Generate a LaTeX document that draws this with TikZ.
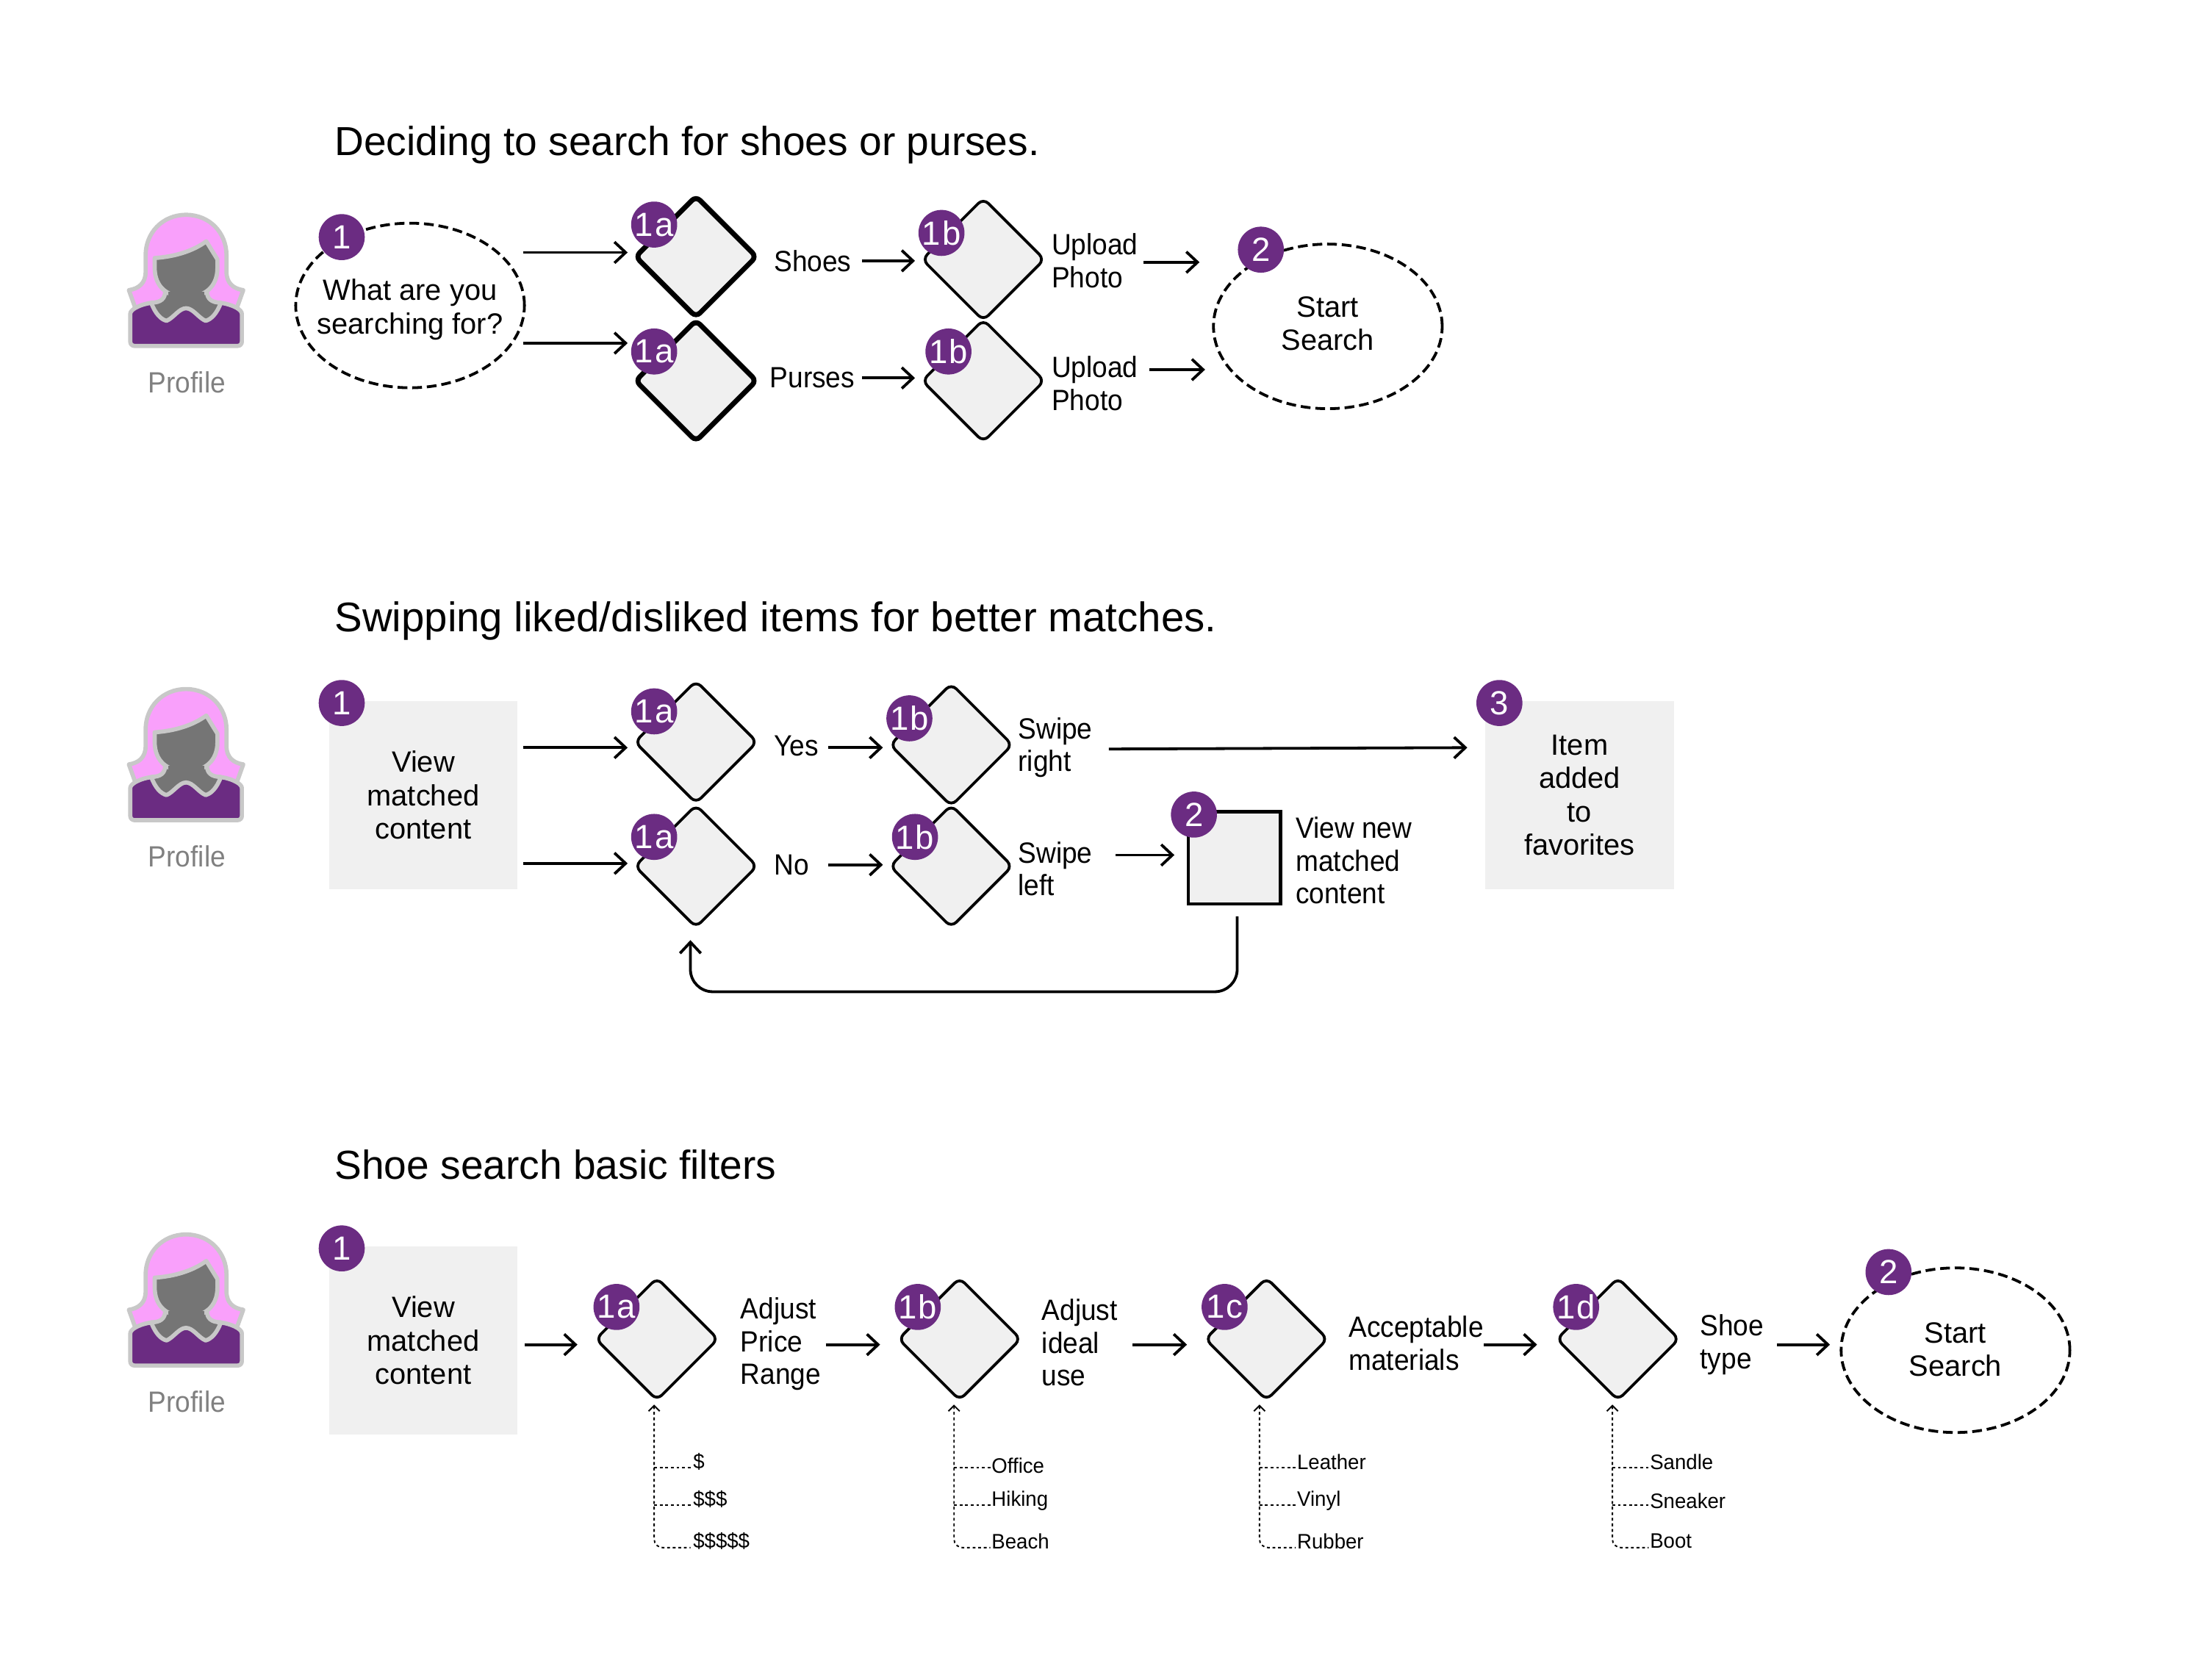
\documentclass[tikz,border=0pt]{standalone}
\usepackage{fontspec}
\setmainfont{Liberation Sans}
\newfontfamily\narrowf[FakeStretch=0.93]{Liberation Sans}
\newfontfamily\smallf[FakeStretch=0.97]{Liberation Sans}
\usetikzlibrary{shapes.geometric,arrows.meta}
\definecolor{purp}{HTML}{6B2C82}
\definecolor{pale}{HTML}{F0F0F0}
\definecolor{hair}{HTML}{F9A0FB}
\definecolor{outl}{HTML}{C8C8C8}
\definecolor{headg}{HTML}{757575}
\tikzset{
  x=1pt,y=-1pt,
  base/.style={inner sep=0pt,outer sep=0pt,text=black},
  title/.style={base,anchor=west,font=\fontsize{29.05}{34}\selectfont},
  lab/.style={base,anchor=west,align=left,font=\narrowf\fontsize{21}{23.5}\selectfont},
  clab/.style={base,align=center,font=\fontsize{21}{24}\selectfont},
  small/.style={base,anchor=west,font=\smallf\fontsize{15}{18}\selectfont},
  proftext/.style={base,text=black!50,font=\narrowf\fontsize{21}{24}\selectfont},
  dec/.style={base,shape=diamond,aspect=1,minimum width=87.5pt,minimum height=87.5pt,draw=black,fill=pale,line width=2pt,rounded corners=5pt},
  decb/.style={dec,minimum width=86.5pt,minimum height=86.5pt,line width=3.6pt,rounded corners=4pt},
  term/.style={base,shape=ellipse,minimum width=164pt,minimum height=118pt,draw=black,line width=2pt,dash pattern=on 7pt off 3.5pt},
  gbox/.style={base,align=center,fill=pale,minimum width=135pt,minimum height=135pt,font=\fontsize{21}{24}\selectfont},
  sq/.style={base,draw=black,fill=pale,line width=2.4pt,minimum width=66pt,minimum height=66pt},
  badge/.style={base,shape=circle,fill=purp,text=white,minimum size=33pt,font=\fontsize{24}{24}\selectfont},
  arr/.style={draw=black,line width=2pt,-{Straight Barb[length=8pt,width=15pt,line width=2pt]}},
  dots/.style={draw=black,line width=1pt,dash pattern=on 2pt off 2pt},
  dotarr/.style={dots,{Straight Barb[length=4pt,width=8pt,line width=1pt]}-},
  profile/.pic={
    \draw[fill=hair,draw=outl,line width=3pt,line join=round]
      (0,-46) .. controls (-17,-46) and (-29,-33) .. (-29,-17)
      -- (-29,-5) .. controls (-29,3) and (-34,7) .. (-41,8)
      -- (-36,22) -- (36,22) -- (41,8)
      .. controls (34,7) and (29,3) .. (29,-5)
      -- (29,-17) .. controls (29,-33) and (17,-46) .. (0,-46) -- cycle;
    \draw[fill=purp,draw=outl,line width=3pt,rounded corners=3pt]
      (-40,48) -- (-40,28) .. controls (-40,22) and (-34,19) .. (-25,17)
      -- (25,17) .. controls (34,19) and (40,22) .. (40,28) -- (40,48) -- cycle;
    \draw[fill=headg,draw=outl,line width=3pt,line join=round]
      (-25,17) .. controls (-22,25) and (-18,29) .. (-14,30)
      .. controls (-9,28) and (-5,21) .. (0,21)
      .. controls (5,21) and (9,28) .. (14,30)
      .. controls (18,29) and (22,25) .. (25,17)
      .. controls (18,17) and (15,14) .. (15,9)
      -- (-15,9) .. controls (-15,14) and (-18,17) .. (-25,17) -- cycle;
    \draw[fill=headg,draw=outl,line width=3pt,line join=round]
      (-22.5,-15) .. controls (-8,-16) and (5,-20) .. (14.5,-27)
      -- (22.5,-14) -- (22.5,-8)
      .. controls (22.5,6) and (13,13) .. (0,13)
      .. controls (-13,13) and (-22.5,6) .. (-22.5,-8) -- cycle;
    \fill[headg] (-13,9) rectangle (13,16);
  }
}
% straight arrow between two named free ends
\newcommand{\flow}[5]{%
  \coordinate (#1s) at (#2,#4);\coordinate (#1e) at (#3,#5);
  \draw[arr] (#1s) -- (#1e);}
% dotted option tree hanging under a decision
\newcommand{\tree}[8]{%
  \coordinate (#1top) at (#2,1007);
  \coordinate (#1bot) at (#2,1109.5);
  \coordinate (#1b1) at (#2,1052);\coordinate (#1e1) at (#2+26,1052);
  \coordinate (#1b2) at (#2,1079);\coordinate (#1e2) at (#2+26,1079);
  \coordinate (#1e3) at (#2+26,1109.5);
  \draw[dotarr,rounded corners=6pt] (#1top) -- (#1bot) -- (#1e3);
  \draw[dots] (#1b1) -- (#1e1);
  \draw[dots] (#1b2) -- (#1e2);
  \node[small] (#1l1) at (#3,#5) {#4};
  \node[small] (#1l2) at (#3,#7) {#6};
  \node[small] (#1l3) at (#3,1105) {#8};}
\begin{document}
\begin{tikzpicture}
\useasboundingbox (0,0) rectangle (1568,1204);
% ---------- icons
\pic at (133.4,200) {profile};
\pic at (133.4,540) {profile};
\pic at (133.4,931) {profile};
\node[proftext] (pr1) at (134,274) {Profile};
\node[proftext] (pr2) at (134,614) {Profile};
\node[proftext] (pr3) at (134,1005) {Profile};
% ---------- row 1
\node[title] (t1) at (240,104) {Deciding to search for shoes or purses.};
\node[term] (a1) at (294,219) {};
\node[clab] (a1t) at (294,222) {What are you\\searching for?};
\node[decb] (a2) at (499,184) {};
\node[decb] (a3) at (499,273) {};
\node[dec] (a4) at (705,186) {};
\node[dec] (a5) at (705,273) {};
\node[term] (a6) at (952,234) {};
\node[clab] (a6t) at (952,232) {Start\\Search};
\node[lab] (la2) at (555,187) {Shoes};
\node[lab] (la3) at (552,271) {Purses};
\node[lab] (la4) at (754,187) {Upload\\Photo};
\node[lab] (la5) at (754,275) {Upload\\Photo};
\flow{f1}{375}{450}{181}{181}
\flow{f2}{375}{450}{246}{246}
\flow{f3}{618}{656}{187}{187}
\flow{f4}{618}{656}{271}{271}
\flow{f5}{820}{860}{188}{188}
\flow{f6}{824}{864}{265}{265}
\node[badge] (ba1) at (245,170) {1};
\node[badge] (ba2) at (469,161) {1\kern1pt a};
\node[badge] (ba3) at (469,252) {1\kern1pt a};
\node[badge] (ba4) at (675,167) {1\kern1pt b};
\node[badge] (ba5) at (680,252) {1\kern1pt b};
\node[badge] (ba6) at (904,179) {2};
% ---------- row 2
\node[title,font=\fontsize{29.7}{34}\selectfont] (t2) at (240,445) {Swipping liked/disliked items for better matches.};
\node[gbox] (b1) at (303.5,570) {View\\matched\\content};
\node[dec] (b2) at (499,532) {};
\node[dec] (b3) at (499,621) {};
\node[dec] (b4) at (682,534) {};
\node[dec] (b5) at (682,621) {};
\node[sq] (b6) at (885,615) {};
\node[gbox] (b7) at (1132.5,570) {Item\\added\\to\\favorites};
\node[lab] (lb2) at (555,535) {Yes};
\node[lab] (lb3) at (555,620) {No};
\node[lab] (lb4) at (730,536) {Swipe\\right};
\node[lab] (lb5) at (730,623) {Swipe\\left};
\node[lab] (lb6) at (929,617) {View new\\matched\\content};
\flow{g1}{375}{450}{536}{536}
\flow{g2}{375}{450}{619}{619}
\flow{g3}{594}{633}{536}{536}
\flow{g4}{594}{633}{620}{620}
\flow{g5}{800}{842}{613}{613}
\flow{g6}{795}{1052}{537}{536}
\coordinate (fbs) at (887,657);
\coordinate (fbe) at (495,674);
\draw[arr,rounded corners=16pt] (fbs) -- (887,711) -- (495,711) -- (fbe);
\node[badge] (bb1) at (245,504) {1};
\node[badge] (bb2) at (469,510) {1\kern1pt a};
\node[badge] (bb3) at (469,600) {1\kern1pt a};
\node[badge] (bb4) at (652,515) {1\kern1pt b};
\node[badge] (bb5) at (656,600) {1\kern1pt b};
\node[badge] (bb6) at (856,584) {2};
\node[badge] (bb7) at (1075,504) {3};
% ---------- row 3
\node[title] (t3) at (240,835) {Shoe search basic filters};
\node[gbox] (c1) at (303.5,961) {View\\matched\\content};
\node[dec] (c2) at (471,960) {};
\node[dec] (c3) at (688,960) {};
\node[dec] (c4) at (908,960) {};
\node[dec] (c5) at (1160,960) {};
\node[term] (c6) at (1402,968) {};
\node[clab] (c6t) at (1402,967.5) {Start\\Search};
\node[lab] (lc2) at (531,963.5) {Adjust\\Price\\Range};
\node[lab] (lc3) at (747,962.5) {Adjust\\ideal\\use};
\node[lab] (lc4) at (967,963) {Acceptable\\materials};
\node[lab] (lc5) at (1219,964) {Shoe\\type};
\flow{h1}{376}{414}{964}{964}
\flow{h2}{592}{631}{964}{964}
\flow{h3}{812}{851}{964}{964}
\flow{h4}{1064}{1102}{964}{964}
\flow{h5}{1274}{1312}{964}{964}
\node[badge] (bc1) at (245,895) {1};
\node[badge] (bc2) at (442,937) {1\kern1pt a};
\node[badge] (bc3) at (658,937) {1\kern1pt b};
\node[badge] (bc4) at (878,937) {1\kern1pt c};
\node[badge] (bc5) at (1130,937) {1\kern1pt d};
\node[badge] (bc6) at (1354,912) {2};
% ---------- option trees
\tree{p}{469}{497}{\$}{1048}{\$\$\$}{1075}{\$\$\$\$\$}
\tree{q}{684}{711}{Office}{1051}{Hiking}{1076}{Beach}
\tree{r}{903}{930}{Leather}{1048}{Vinyl}{1076}{Rubber}
\tree{s}{1156}{1183}{Sandle}{1048}{Sneaker}{1076}{Boot}
\end{tikzpicture}
\end{document}
